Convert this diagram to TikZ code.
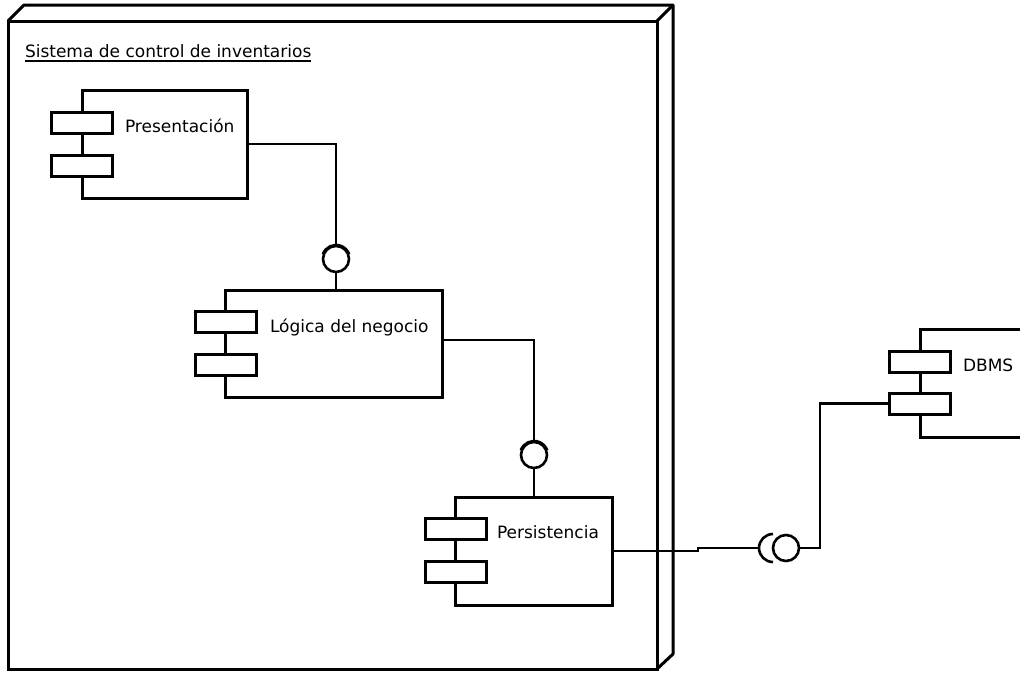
\documentclass[tikz,border=0pt]{standalone}
\usepackage{fontspec}
\setmainfont{DejaVu Sans}
\begin{document}
\begin{tikzpicture}[x=1pt,y=-1pt,
  every node/.style={inner sep=0pt,outer sep=0pt},
  comp/.style={draw,line width=3pt,fill=white,rectangle},
  port/.style={draw,line width=3pt,fill=white,rectangle,minimum width=61pt,minimum height=21pt},
  lbl/.style={anchor=base west,font=\fontsize{17}{20}\selectfont},
  wire/.style={line width=2.6pt},
  ball/.style={draw,line width=2.6pt,fill=white,circle,minimum size=26pt}]
\clip (0,0) rectangle (1020,673);
\fill[white] (0,0) rectangle (1020,673);

% container node (3D box)
\node[draw,line width=3pt,rectangle,minimum width=649pt,minimum height=648pt] (sys) at (332.5,345) {};
\draw[line width=3pt,line join=round] (sys.north west) -- ++(16,-16) -- ++(649,0) -- ++(0,649) -- (sys.south east);
\draw[line width=3pt] (sys.north east) -- ++(16,-16);
\node[lbl] (systitle) at (25,57) {Sistema de control de inventarios};
\draw[line width=1.4pt] (25,61) -- (systitle.base east |- 0,61);

% components
\node[comp,minimum width=165pt,minimum height=108pt] (pres) at (164.5,144) {};
\node[port] (pres1) at (81.5,122.5) {};
\node[port] (pres2) at (81.5,165.5) {};
\node[lbl] at (125,132) {Presentación};

\node[comp,minimum width=217pt,minimum height=107pt] (logica) at (333.5,343.5) {};
\node[port] (log1) at (226,321.5) {};
\node[port] (log2) at (226,364.5) {};
\node[lbl] at (270,332) {Lógica del negocio};

\node[comp,minimum width=157pt,minimum height=108pt] (pers) at (533.5,551) {};
\node[port] (pers1) at (455.5,528.5) {};
\node[port] (pers2) at (455.5,571.5) {};
\node[lbl] at (497,538) {Persistencia};

\node[comp,minimum width=130pt,minimum height=108pt] (dbms) at (985,383) {};
\node[port] (db1) at (919.5,361.5) {};
\node[port] (db2) at (919.5,403.5) {};
\node[lbl] at (963,371) {DBMS};

% interfaces (ball and socket)
\node[ball] (s1) at (336,259) {};
\draw[wire] (s1.center) ++(200:14) arc[start angle=200,end angle=340,radius=14];
\node[ball] (s2) at (534,455) {};
\draw[wire] (s2.center) ++(200:14) arc[start angle=200,end angle=340,radius=14];
\node[ball] (s3) at (786,548) {};
\draw[wire] (773,562) arc[start angle=90,end angle=270,radius=14];
\coordinate (k3) at (759,548);

% connectors
\draw[wire] (pres.east |- 0,144) -| (s1.north);
\draw[wire] (s1.south) -- (s1.south |- logica.north);
\draw[wire] (logica.east |- 0,340) -| (s2.north);
\draw[wire] (s2.south) -- (s2.south |- pers.north);
\draw[wire] (pers.east) -- (698,551) -- (698,548) -- (k3);
\draw[wire] (s3.east) -- (820,548) |- (db2.west);
\end{tikzpicture}
\end{document}
